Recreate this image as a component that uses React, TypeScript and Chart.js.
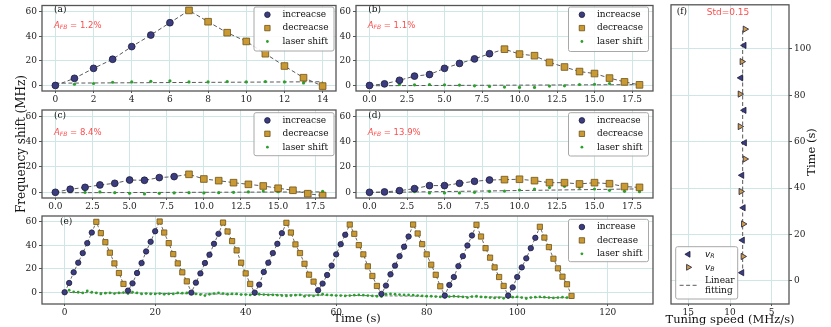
import React, { useEffect, useRef } from 'react';
import { Chart, registerables } from 'chart.js';

Chart.register(...registerables);

const FIG_W = 831;
const FIG_H = 327;

// ---------------- data ----------------
// panel (a)
const incA = [0, 5.8, 13.9, 21.3, 31.6, 41, 51];
const decA = [61, 51.8, 42.9, 35.8, 25.8, 15.8, 6.3, -0.5];
const laserA = [0, 1, 1.6, 2.6, 2.9, 3.4, 3.7, 2.9, 2.9, 3.2, 2.9, 3.2, 2.9, 2.1, 1.3];
// panel (b)
const incB = [0, 1.3, 4.2, 7.6, 8.9, 13.9, 17.9, 21.6, 25.8];
const decB = [29.5, 25.5, 24.2, 18.7, 15, 11.3, 9.7, 6, 2.9, 0.5];
const laserB = [0, 0.5, 0.8, 0.5, 0.8, 0.5, 0.3, -0.3, -0.8, -1.3, -1.6, -1.6, -0.5, -0.3, 0.8, 1, 1.6, 2.1, 1.8];
// panel (c)
const incC = [0, 2.4, 3.9, 5.8, 7.1, 9.7, 9.5, 11.6, 12.4];
const decC = [14.2, 10.5, 9.2, 7.6, 6.3, 5, 3.2, 1.6, -1.1, -2.6];
const laserC = [0, 0.8, 0, 0.3, -0.3, -0.8, -1.3, -0.8, -0.5, -0.3, -0.5, -0.3, 0, 0.3, 1, 0.5, 0.3, 0.3, 0.8];
// panel (d)
const incD = [0, 0.3, 1.3, 2.9, 5.3, 5.3, 7.1, 8.7, 9.7];
const decD = [10, 10.3, 9.2, 7.6, 7.6, 6.6, 7.6, 6.8, 4.5, 3.9];
const laserD = [0, 0.3, 0.3, 0.5, -0.5, -0.5, -0.5, 0, 0.8, 1, 1.8, 2.6, 3.7, 4.7, 3.9, 2.6, 1.6, 0.8, 0.5];
// panel (e): 8 cycles of 14 s (rise 7 s, fall 7 s)
const riseE = [
  [0, 7.9, 17, 25.2, 33.4, 41.9, 50.9],
  [1.4, 7.6, 16.4, 24.9, 34.8, 43, 52],
  [-0.3, 8.2, 16.1, 24.9, 32, 41.3, 49.8],
  [-0.3, 6.5, 17.3, 25.2, 33.4, 41.3, 50.4],
  [1.7, 7.4, 14.7, 22.7, 32.3, 41, 49],
  [-1.4, 5.7, 15.3, 22.7, 30.8, 38.8, 47.5],
  [-2.8, 6.2, 13, 22.3, 30.8, 39.9, 48.4],
  [-2.8, 4.2, 13, 21.2, 28.9, 37.6, 46.4],
];
const fallE = [
  [60, 50.4, 42.7, 33.7, 24.6, 16.4, 7.1],
  [60.3, 50.9, 41.9, 32.5, 24.6, 17, 9.3],
  [59.4, 51.8, 43.6, 35.7, 25.2, 16.1, 7.1],
  [59.2, 50.9, 40.8, 33.4, 24.3, 15, 9.1],
  [57.7, 49.8, 40.2, 32.3, 22.1, 13.9, 5.4],
  [57.7, 50.1, 41, 32.3, 23.5, 14.9, 5.1],
  [57.5, 47.5, 37.6, 29.5, 21.2, 13, 5.4],
  [55.8, 46.6, 38.5, 28.6, 20.4, 13.3, 6.8, -3.1],
];
const laserE = [
  0, 1.7, 0.3, 0, -0.6, 1.1, 0, -0.6, -1.4, -0.8,
  -0.6, -1.1, -0.6, -0.3, -1.1, 0, -0.6, -1.4, -1.1, -1.4,
  -1.4, -1.1, -1.7, -1.4, -1.4, -0.6, -0.8, -0.6, -1.1, -1.4,
  -2, -2.8, -1.7, -1.1, -0.6, -1.1, -1.7, -1.4, -1.4, -2,
  -2, -2.3, -2, -1.7, -2, -2.3, -2.3, -2.5, -2.8, -3.1,
  -2.8, -2.5, -2.3, -3.4, -2.8, -3.1, -2.3, -1.7, -2.3, -2.5,
  -2.8, -2.8, -3.1, -2.8, -2.5, -2.3, -2.5, -2.8, -3.1, -3.4,
  -3.7, -1.7, -1.4, -1.7, -2, -2.3, -2.3, -2.5, -2.8, -3.1,
  -3.4, -3.4, -3.7, -4, -4.2, -3.7, -3.4, -3.7, -4, -4.5,
  -3.7, -3.4, -4, -4.2, -4.5, -4.8, -4.5, -5.1, -4.5, -4.2,
  -4, -4.5, -5.4, -4.5, -4.2, -4, -4.2, -4.5, -4.8, -4.5,
  -4.2, -4.5, -4.2,
];
// panel (f)
const vRTime = [3.5, 17.5, 31.5, 45.5, 59.5, 73.5, 87.5, 101.5];
const vRSpeed = [8.57, 8.5, 8.4, 8.57, 8.25, 8.3, 8.7, 8.3];
const vBTime = [10.5, 24.5, 38.5, 52.5, 66.5, 80.5, 94.5, 108.5];
const vBSpeed = [8.45, 8.4, 8.7, 8.2, 8.8, 8.8, 8.57, 8.2];
const fitTime = [2.5, 108.5];

// tick labels
const xTicksA = [0, 2, 4, 6, 8, 10, 12, 14];
const xTicksBCD = [0, 2.5, 5, 7.5, 10, 12.5, 15, 17.5];
const xTicksE = [0, 20, 40, 60, 80, 100, 120];
const yTicksFreq = [0, 20, 40, 60];
const xTicksF = [5, 10, 15];
const yTicksF = [0, 20, 40, 60, 80, 100];

// ---------------- styles ----------------
const NAVY = '#3c3d80';
const NAVY_EDGE = '#1c1c3a';
const GOLD = '#c99a33';
const GOLD_EDGE = '#6e5216';
const TAN = '#cf9d4a';
const GREEN = '#2ca02c';
const GRID = '#cfe6e6';
const FRAME = '#555555';
const RED = '#ff4d4d';
const DASH = '#5a5a5a';

const serif = (size: number, style = '') => `${style} ${size}px "DejaVu Serif", serif`.trim();
const sans = (size: number, style = '') => `${style} ${size}px "DejaVu Sans", sans-serif`.trim();

type Seg = { t: string; font: string; dy?: number };
type TextItem = { x: number; y: number; segs: Seg[]; color?: string; align?: 'left' | 'center' | 'right'; rot?: number };
type LegendSpec = { x: number; y: number; w: number; h: number; mdx: number; tdx: number; first: number; rowH: number; lineH: number };
type Panel = {
  area: { l: number; t: number; r: number; b: number };
  xMin: number; xMax: number; xTicks: number[]; xFmt?: (v: number) => string; xReverse?: boolean;
  yMin: number; yMax: number; yTicks: number[]; yRight?: boolean;
  datasets: any[];
  legend?: LegendSpec;
  texts: TextItem[];
};

// ---------------- helpers ----------------
function pts(vals: number[], x0: number) {
  return vals.map((v, i) => ({ x: x0 + i, y: v }));
}

function fitLine(ys: number[]) {
  const n = ys.length;
  const xs = ys.map((_, i) => i);
  const mx = xs.reduce((a, b) => a + b, 0) / n;
  const my = ys.reduce((a, b) => a + b, 0) / n;
  let sxy = 0;
  let sxx = 0;
  for (let i = 0; i < n; i++) {
    sxy += (xs[i] - mx) * (ys[i] - my);
    sxx += (xs[i] - mx) * (xs[i] - mx);
  }
  const m = sxy / sxx;
  const c = my - m * mx;
  return [{ x: xs[0], y: c + m * xs[0] }, { x: xs[n - 1], y: c + m * xs[n - 1] }];
}

function markerDs(label: string, data: any[], style: string, r: number, bg: string, edge: string, bw: number, legendR: number, extra: any = {}) {
  return {
    label, data, showLine: false, inLegend: true,
    pointStyle: style, pointRadius: r, pointBackgroundColor: bg, pointBorderColor: edge, pointBorderWidth: bw,
    backgroundColor: bg, borderColor: edge, legendRadius: legendR, ...extra,
  };
}

function lineDs(label: string, data: any[], width: number, dash: number[], inLegend = false, order = 10) {
  return {
    label, data, showLine: true, pointRadius: 0, borderColor: DASH, borderWidth: width, borderDash: dash,
    fill: false, inLegend, order,
  };
}

function freqDatasets(inc: number[], dec: number[], laser: number[], names: string[], small: boolean) {
  const incPts = pts(inc, 0);
  const decPts = pts(dec, inc.length);
  return [
    markerDs(names[0], incPts, 'circle', small ? 2.6 : 3.4, NAVY, NAVY_EDGE, 0.8, 2.8, { order: 1 }),
    markerDs(names[1], decPts, 'rect', small ? 3.6 : 4.7, GOLD, GOLD_EDGE, 0.8, 3.8, { order: 2 }),
    markerDs(names[2], pts(laser, 0), 'circle', small ? 1.4 : 1.6, GREEN, GREEN, 0, 1.4, { order: 3 }),
    lineDs('fit', incPts.concat(decPts), 1, [4, 2.5], false, 10),
    lineDs('laser fit', fitLine(laser), 1, [4, 2.5], false, 11),
  ];
}

function eDatasets() {
  const cycle = riseE[0].length + fallE[0].length;
  const rise: any[] = [];
  const fall: any[] = [];
  riseE.forEach((c, k) => c.forEach((v, i) => rise.push({ x: k * cycle + i, y: v })));
  fallE.forEach((c, k) => c.forEach((v, i) => fall.push({ x: k * cycle + riseE[k].length + i, y: v })));
  const all = rise.concat(fall).sort((a, b) => a.x - b.x);
  return [
    markerDs('increase', rise, 'circle', 2.7, NAVY, NAVY_EDGE, 0.8, 2.8, { order: 1 }),
    markerDs('decrease', fall, 'rect', 3.7, GOLD, GOLD_EDGE, 0.8, 3.8, { order: 2 }),
    markerDs('laser shift', pts(laserE, 0), 'circle', 1.4, GREEN, GREEN, 0, 1.4, { order: 3 }),
    lineDs('fit', all, 0.9, [3, 2], false, 10),
    lineDs('laser fit', fitLine(laserE), 0.9, [3, 2], false, 11),
  ];
}

function fDatasets() {
  const mean = vRSpeed.concat(vBSpeed).reduce((a, b) => a + b, 0) / (vRSpeed.length + vBSpeed.length);
  return [
    markerDs('v_R', vRSpeed.map((s, i) => ({ x: s, y: vRTime[i] })), 'triangle', 3.6, NAVY, NAVY_EDGE, 0.8, 3.4, { pointRotation: -90, rotation: -90, order: 1 }),
    markerDs('v_B', vBSpeed.map((s, i) => ({ x: s, y: vBTime[i] })), 'triangle', 3.6, TAN, NAVY_EDGE, 0.8, 3.4, { pointRotation: 90, rotation: 90, order: 2 }),
    lineDs('Linear\nfitting', fitTime.map((t) => ({ x: mean, y: t })), 1, [4, 2.5], true, 10),
  ];
}

function afb(x: number, y: number, value: string): TextItem {
  return {
    x, y, color: RED, segs: [
      { t: 'A', font: sans(8.5, 'italic') },
      { t: 'FB', font: sans(6, 'italic'), dy: 2 },
      { t: ` = ${value}`, font: sans(8.5) },
    ],
  };
}
function plain(x: number, y: number, t: string, font: string, align: 'left' | 'center' = 'left', rot = 0, color = '#111'): TextItem {
  return { x, y, segs: [{ t, font }], align, rot, color };
}

function drawRich(ctx: CanvasRenderingContext2D, it: TextItem) {
  ctx.save();
  ctx.translate(it.x, it.y);
  if (it.rot) ctx.rotate((it.rot * Math.PI) / 180);
  ctx.fillStyle = it.color || '#111';
  ctx.textBaseline = 'middle';
  ctx.textAlign = 'left';
  let total = 0;
  for (const s of it.segs) {
    ctx.font = s.font;
    total += ctx.measureText(s.t).width;
  }
  let x = it.align === 'center' ? -total / 2 : it.align === 'right' ? -total : 0;
  for (const s of it.segs) {
    ctx.font = s.font;
    ctx.fillText(s.t, x, s.dy || 0);
    x += ctx.measureText(s.t).width;
  }
  ctx.restore();
}

function labelSegs(label: string): Seg[] {
  const m = label.match(/^(\w)_(\w+)$/);
  if (m) return [{ t: m[1], font: sans(9, 'italic') }, { t: m[2], font: sans(6.3, 'italic'), dy: 2 }];
  return [{ t: label, font: serif(9) }];
}

function drawMarker(ctx: CanvasRenderingContext2D, ds: any, x: number, y: number) {
  ctx.save();
  if (ds.showLine) {
    ctx.strokeStyle = ds.borderColor;
    ctx.lineWidth = ds.borderWidth;
    ctx.setLineDash(ds.borderDash || []);
    ctx.beginPath();
    ctx.moveTo(x - 8.7, y);
    ctx.lineTo(x + 8.7, y);
    ctx.stroke();
  } else {
    const r = ds.legendRadius;
    ctx.fillStyle = ds.pointBackgroundColor;
    ctx.strokeStyle = ds.pointBorderColor;
    ctx.lineWidth = ds.pointBorderWidth;
    ctx.beginPath();
    if (ds.pointStyle === 'circle') {
      ctx.arc(x, y, r, 0, Math.PI * 2);
    } else if (ds.pointStyle === 'rect') {
      const s = r * Math.SQRT1_2;
      ctx.rect(x - s, y - s, 2 * s, 2 * s);
    } else if (ds.pointStyle === 'triangle') {
      let a = ((ds.pointRotation || 0) * Math.PI) / 180;
      ctx.moveTo(x + Math.sin(a) * r, y - Math.cos(a) * r);
      a += (2 * Math.PI) / 3;
      ctx.lineTo(x + Math.sin(a) * r, y - Math.cos(a) * r);
      a += (2 * Math.PI) / 3;
      ctx.lineTo(x + Math.sin(a) * r, y - Math.cos(a) * r);
      ctx.closePath();
    }
    ctx.fill();
    if (ds.pointBorderWidth) ctx.stroke();
  }
  ctx.restore();
}

function decoPlugin(p: Panel) {
  return {
    id: 'deco',
    afterDatasetsDraw(chart: any) {
      const ctx: CanvasRenderingContext2D = chart.ctx;
      const a = chart.chartArea;
      ctx.save();
      ctx.strokeStyle = FRAME;
      ctx.lineWidth = 1.3;
      ctx.strokeRect(a.left, a.top, a.right - a.left, a.bottom - a.top);
      ctx.restore();
    },
    afterDraw(chart: any) {
      const ctx: CanvasRenderingContext2D = chart.ctx;
      const lg = p.legend;
      if (lg) {
        ctx.save();
        ctx.fillStyle = 'rgba(255,255,255,0.85)';
        ctx.strokeStyle = '#a8a8a8';
        ctx.lineWidth = 1;
        ctx.beginPath();
        (ctx as any).roundRect ? (ctx as any).roundRect(lg.x, lg.y, lg.w, lg.h, 2) : ctx.rect(lg.x, lg.y, lg.w, lg.h);
        ctx.fill();
        ctx.stroke();
        ctx.restore();
        const rows = chart.data.datasets.filter((d: any) => d.inLegend);
        let cy = lg.y + lg.first;
        let prevH = 0;
        rows.forEach((ds: any, i: number) => {
          const lines = String(ds.label).split('\n');
          const h = lg.rowH + (lines.length - 1) * lg.lineH;
          if (i > 0) cy += prevH / 2 + h / 2;
          prevH = h;
          drawMarker(ctx, ds, lg.x + lg.mdx, cy);
          lines.forEach((ln, j) => {
            const ly = cy + (j - (lines.length - 1) / 2) * lg.lineH;
            drawRich(ctx, { x: lg.x + lg.tdx, y: ly, segs: labelSegs(ln), color: '#111' });
          });
        });
      }
      p.texts.forEach((t) => drawRich(ctx, t));
    },
  };
}

const XH = 14;
const YW = 30;

function buildConfig(p: Panel): any {
  const { l, t, r, b } = p.area;
  const padding = p.yRight
    ? { left: l, right: FIG_W - r - YW, top: t, bottom: FIG_H - b - XH }
    : { left: l - YW, right: FIG_W - r, top: t, bottom: FIG_H - b - XH };
  const tickFont = { family: '"DejaVu Serif", serif', size: 9 };
  return {
    type: 'scatter',
    data: { datasets: p.datasets },
    options: {
      responsive: false,
      maintainAspectRatio: false,
      animation: false,
      events: [],
      layout: { padding },
      plugins: { legend: { display: false }, tooltip: { enabled: false }, title: { display: false } },
      scales: {
        x: {
          type: 'linear', position: 'bottom', bounds: 'data',
          min: p.xMin, max: p.xMax, reverse: !!p.xReverse,
          afterBuildTicks: (s: any) => { s.ticks = p.xTicks.map((v) => ({ value: v })); },
          afterFit: (s: any) => { s.height = XH; s.paddingLeft = 0; s.paddingRight = 0; s.paddingTop = 0; s.paddingBottom = 0; },
          grid: { color: GRID, lineWidth: 1, tickColor: FRAME, tickLength: 2, drawTicks: true },
          border: { display: false },
          ticks: {
            font: tickFont, color: '#222', padding: 1, maxRotation: 0, autoSkip: false,
            callback: (v: any) => (p.xFmt ? p.xFmt(Number(v)) : String(v)),
          },
        },
        y: {
          type: 'linear', position: p.yRight ? 'right' : 'left', bounds: 'data',
          min: p.yMin, max: p.yMax,
          afterBuildTicks: (s: any) => { s.ticks = p.yTicks.map((v) => ({ value: v })); },
          afterFit: (s: any) => { s.width = YW; s.paddingLeft = 0; s.paddingRight = 0; s.paddingTop = 0; s.paddingBottom = 0; },
          grid: { color: GRID, lineWidth: 1, tickColor: FRAME, tickLength: 3, drawTicks: true },
          border: { display: false },
          ticks: { font: tickFont, color: '#222', padding: 2, autoSkip: false, callback: (v: any) => String(v) },
        },
      },
    },
    plugins: [decoPlugin(p)],
  };
}

const fmt1 = (v: number) => v.toFixed(1);
const ABCD_NAMES = ['increacse', 'decreacse', 'laser shift'];
const LEG = { w: 80, mdx: 13.4, tdx: 28.4, first: 7.7, rowH: 13.4, lineH: 10 };

const PANELS: Panel[] = [
  {
    area: { l: 42, t: 3, r: 336, b: 91 },
    xMin: -0.7, xMax: 14.7, xTicks: xTicksA,
    yMin: -4.5, yMax: 65, yTicks: yTicksFreq,
    datasets: freqDatasets(incA, decA, laserA, ABCD_NAMES, false),
    legend: { ...LEG, x: 254, y: 7, h: 44 },
    texts: [plain(54, 9.3, '(a)', serif(9)), afb(54, 25.3, '1.2%')],
  },
  {
    area: { l: 356, t: 3, r: 653, b: 91 },
    xMin: -0.9, xMax: 18.9, xTicks: xTicksBCD, xFmt: fmt1,
    yMin: -4.5, yMax: 65, yTicks: yTicksFreq,
    datasets: freqDatasets(incB, decB, laserB, ABCD_NAMES, false),
    legend: { ...LEG, x: 568.5, y: 7, h: 44.5 },
    texts: [plain(368.3, 9.3, '(b)', serif(9)), afb(367.7, 25.3, '1.1%')],
  },
  {
    area: { l: 42, t: 110, r: 336, b: 198 },
    xMin: -0.9, xMax: 18.9, xTicks: xTicksBCD, xFmt: fmt1,
    yMin: -4.5, yMax: 65, yTicks: yTicksFreq,
    datasets: freqDatasets(incC, decC, laserC, ABCD_NAMES, false),
    legend: { ...LEG, x: 254, y: 112.7, h: 43 },
    texts: [plain(54, 115.5, '(c)', serif(9)), afb(54, 132.7, '8.4%')],
  },
  {
    area: { l: 356, t: 110, r: 653, b: 198 },
    xMin: -0.9, xMax: 18.9, xTicks: xTicksBCD, xFmt: fmt1,
    yMin: -4.5, yMax: 65, yTicks: yTicksFreq,
    datasets: freqDatasets(incD, decD, laserD, ABCD_NAMES, false),
    legend: { ...LEG, x: 568.5, y: 112.7, h: 43.3 },
    texts: [plain(368.3, 115.5, '(d)', serif(9)), afb(367.7, 132.7, '13.9%')],
  },
  {
    area: { l: 42, t: 216, r: 653, b: 304 },
    xMin: -5, xMax: 130, xTicks: xTicksE,
    yMin: -10, yMax: 65, yTicks: yTicksFreq,
    datasets: eDatasets(),
    legend: { ...LEG, x: 568.5, y: 219.3, h: 42.4 },
    texts: [
      plain(60, 221.5, '(e)', serif(9)),
      plain(21.5, 144, 'Frequency shift (MHz)', serif(12), 'center', -90),
      plain(357, 319.5, 'Time (s)', serif(11.5), 'center'),
    ],
  },
  {
    area: { l: 671, t: 3, r: 789, b: 304 },
    xMin: 2.93, xMax: 17.07, xTicks: xTicksF, xReverse: true,
    yMin: -10, yMax: 119, yTicks: yTicksF, yRight: true,
    datasets: fDatasets(),
    legend: { x: 675.7, y: 246.7, w: 62, h: 52.3, mdx: 12.6, tdx: 29.3, first: 7.6, rowH: 13, lineH: 10 },
    texts: [
      plain(676.7, 12, '(f)', serif(9)),
      plain(728, 12.5, 'Std=0.15', sans(9), 'center', 0, RED),
      plain(730, 320.5, 'Tuning speed (MHz/s)', serif(11.5), 'center'),
      plain(811.7, 152, 'Time (s)', serif(11.5), 'center', -90),
    ],
  },
];

export default function App() {
  const refs = useRef<(HTMLCanvasElement | null)[]>([]);
  useEffect(() => {
    const charts = PANELS.map((p, i) => new Chart(refs.current[i] as HTMLCanvasElement, buildConfig(p)));
    return () => {
      charts.forEach((c) => c.destroy());
    };
  }, []);
  return (
    <div style={{ position: 'absolute', left: 0, top: 0, width: FIG_W, height: FIG_H, background: '#fff', overflow: 'hidden' }}>
      {PANELS.map((_, i) => (
        <canvas
          key={i}
          ref={(el) => {
            refs.current[i] = el;
          }}
          width={FIG_W}
          height={FIG_H}
          style={{ position: 'absolute', left: 0, top: 0, width: FIG_W, height: FIG_H }}
        />
      ))}
    </div>
  );
}
